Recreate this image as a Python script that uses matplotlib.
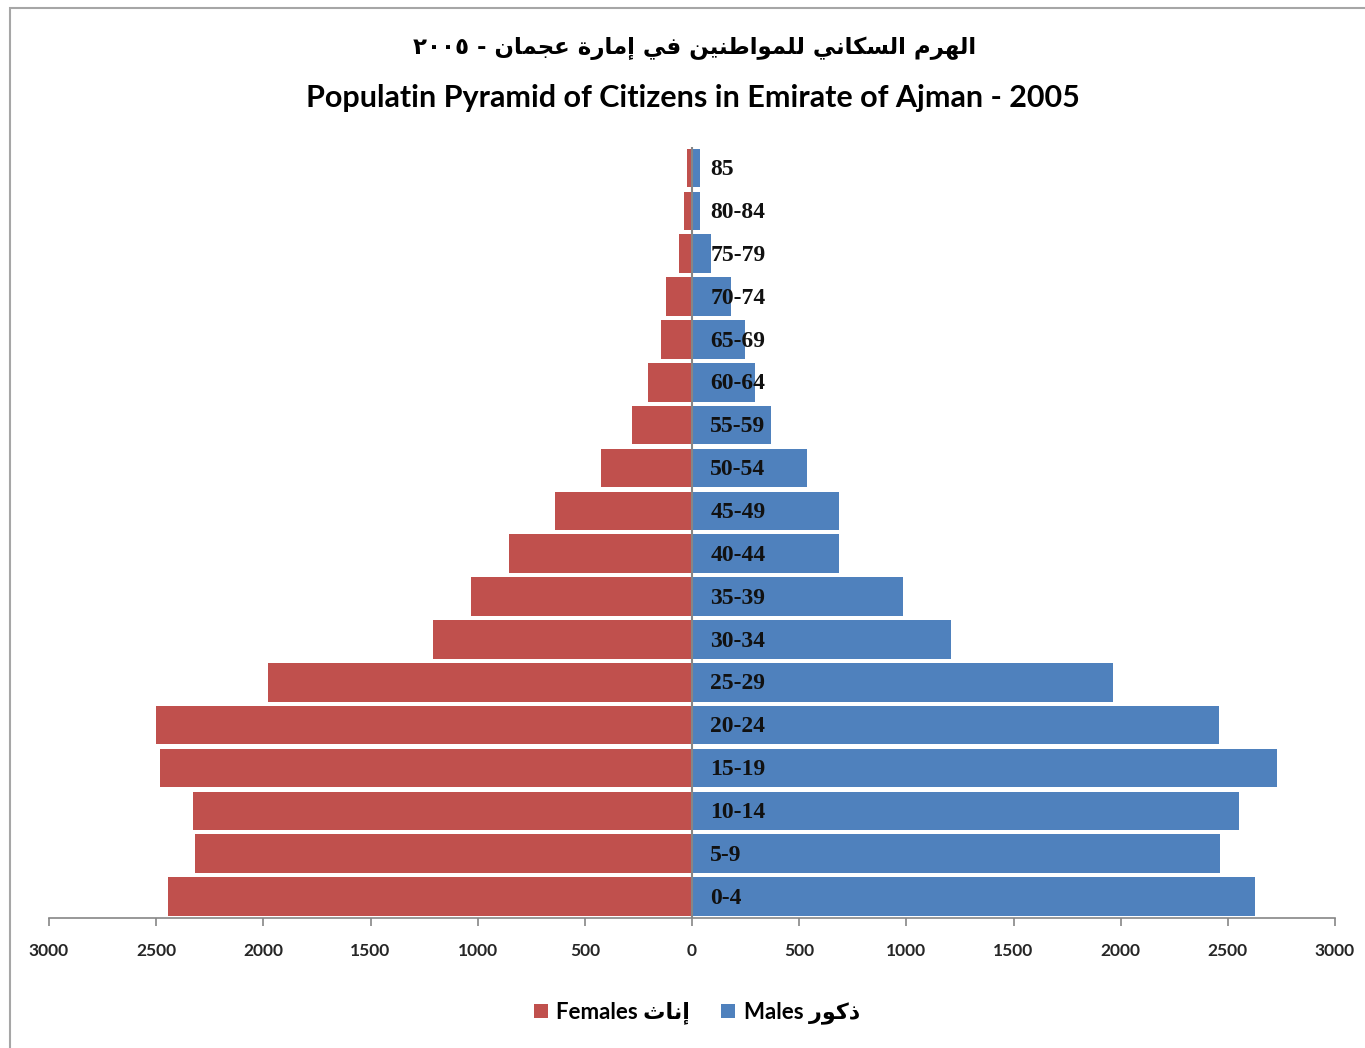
import matplotlib
matplotlib.use("Agg")
import matplotlib.pyplot as plt
from matplotlib.patches import Rectangle, Patch
import numpy as np

# ---------------- data ----------------
age_groups = ["0-4", "5-9", "10-14", "15-19", "20-24", "25-29", "30-34", "35-39",
              "40-44", "45-49", "50-54", "55-59", "60-64", "65-69", "70-74",
              "75-79", "80-84", "85"]
females = [2444, 2318, 2328, 2482, 2500, 1978, 1208, 1031, 854, 639, 425, 280,
           205, 145, 121, 61, 37, 23]
males = [2626, 2463, 2552, 2729, 2458, 1964, 1208, 984, 686, 686, 536, 368,
         294, 247, 182, 89, 37, 37]
tick_values = [-3000, -2500, -2000, -1500, -1000, -500, 0, 500, 1000, 1500, 2000, 2500, 3000]

title_ar = "الهرم السكاني للمواطنين في إمارة عجمان"
title_year = "٢٠٠٥"
title_en = "Populatin Pyramid of Citizens in Emirate of Ajman - 2005"
fem_ar = "إناث"
male_ar = "ذكور"

# ---------------- simple Arabic shaping (presentation forms) ----------------
FORMS = {
    'ا': ('\uFE8D', '\uFE8E', None, None),
    'أ': ('\uFE83', '\uFE84', None, None),
    'إ': ('\uFE87', '\uFE88', None, None),
    'آ': ('\uFE81', '\uFE82', None, None),
    'ب': ('\uFE8F', '\uFE90', '\uFE91', '\uFE92'),
    'ة': ('\uFE93', '\uFE94', None, None),
    'ت': ('\uFE95', '\uFE96', '\uFE97', '\uFE98'),
    'ث': ('\uFE99', '\uFE9A', '\uFE9B', '\uFE9C'),
    'ج': ('\uFE9D', '\uFE9E', '\uFE9F', '\uFEA0'),
    'ح': ('\uFEA1', '\uFEA2', '\uFEA3', '\uFEA4'),
    'خ': ('\uFEA5', '\uFEA6', '\uFEA7', '\uFEA8'),
    'د': ('\uFEA9', '\uFEAA', None, None),
    'ذ': ('\uFEAB', '\uFEAC', None, None),
    'ر': ('\uFEAD', '\uFEAE', None, None),
    'ز': ('\uFEAF', '\uFEB0', None, None),
    'س': ('\uFEB1', '\uFEB2', '\uFEB3', '\uFEB4'),
    'ش': ('\uFEB5', '\uFEB6', '\uFEB7', '\uFEB8'),
    'ط': ('\uFEC1', '\uFEC2', '\uFEC3', '\uFEC4'),
    'ع': ('\uFEC9', '\uFECA', '\uFECB', '\uFECC'),
    'ف': ('\uFED1', '\uFED2', '\uFED3', '\uFED4'),
    'ك': ('\uFED9', '\uFEDA', '\uFEDB', '\uFEDC'),
    'ل': ('\uFEDD', '\uFEDE', '\uFEDF', '\uFEE0'),
    'م': ('\uFEE1', '\uFEE2', '\uFEE3', '\uFEE4'),
    'ن': ('\uFEE5', '\uFEE6', '\uFEE7', '\uFEE8'),
    'ه': ('\uFEE9', '\uFEEA', '\uFEEB', '\uFEEC'),
    'و': ('\uFEED', '\uFEEE', None, None),
    'ي': ('\uFEF1', '\uFEF2', '\uFEF3', '\uFEF4'),
}
LAM_ALEF = {'ا': ('\uFEFB', '\uFEFC'), 'إ': ('\uFEF9', '\uFEFA'),
            'أ': ('\uFEF7', '\uFEF8'), 'آ': ('\uFEF5', '\uFEF6')}


def joins_forward(c):
    return c in FORMS and FORMS[c][2] is not None


def shape_visual(text):
    out = []
    i = 0
    n = len(text)
    while i < n:
        c = text[i]
        if c not in FORMS:
            out.append(c)
            i += 1
            continue
        prev = text[i - 1] if i > 0 else ''
        jp = joins_forward(prev)
        if c == 'ل' and i + 1 < n and text[i + 1] in LAM_ALEF:
            out.append(LAM_ALEF[text[i + 1]][1 if jp else 0])
            i += 2
            continue
        nxt = text[i + 1] if i + 1 < n else ''
        jn = joins_forward(c) and nxt in FORMS
        iso, fin, ini, med = FORMS[c]
        if jp and jn:
            out.append(med)
        elif jp:
            out.append(fin)
        elif jn:
            out.append(ini)
        else:
            out.append(iso)
        i += 1
    return ''.join(reversed(out))


# ---------------- figure ----------------
RED = "#C0504D"
BLUE = "#4F81BD"
AXC = "#868686"

fig = plt.figure(figsize=(13.65, 10.48), dpi=100)
W, H = 1365, 1048

# outer chart border
fig.patches.append(Rectangle((10 / W, -0.05), 1.2, 1 - 8 / H + 0.05, transform=fig.transFigure,
                             fill=False, edgecolor="#A6A6A6", linewidth=1.5))

ax = fig.add_axes([49 / W, 1 - 918 / H, (1335 - 49) / W, (918 - 146.5) / H])
y = np.arange(len(age_groups))
ax.barh(y, [-v for v in females], height=0.9, color=RED, edgecolor="none", zorder=2)
ax.barh(y, males, height=0.9, color=BLUE, edgecolor="none", zorder=2)
ax.set_xlim(-3000, 3000)
ax.set_ylim(-0.5, len(age_groups) - 0.5)

for s in ["top", "right", "left"]:
    ax.spines[s].set_visible(False)
ax.spines["bottom"].set_color(AXC)
ax.spines["bottom"].set_linewidth(1.2)
ax.axvline(0, color=AXC, linewidth=1.5, zorder=3)

ax.set_yticks([])
ax.set_xticks(tick_values)
ax.set_xticklabels([str(abs(v)) for v in tick_values], fontfamily="Lato", fontweight="bold",
                   fontsize=12.5, color="#262626")
ax.tick_params(axis="x", direction="out", length=6, width=1.2, color=AXC, pad=12)

for yi, lab in zip(y, age_groups):
    ax.text(85, yi - 0.04, lab, ha="left", va="center", fontfamily="Liberation Serif",
            fontweight="bold", fontsize=17, color="#111111", zorder=4)

# titles
fig.text(695 / W, 1 - 48 / H, title_year + " - " + shape_visual(title_ar),
         ha="center", va="center", fontsize=16.5, fontweight="bold",
         family=["DejaVu Sans"], color="black")
fig.text(693 / W, 1 - 98 / H, title_en, ha="center", va="center", fontsize=22,
         fontweight="bold", family=["Lato", "DejaVu Sans"], color="black")

# legend
handles = [Patch(facecolor=RED, edgecolor="none"), Patch(facecolor=BLUE, edgecolor="none")]
labels = ["Females " + shape_visual(fem_ar), "Males " + shape_visual(male_ar)]
leg = fig.legend(handles, labels, loc="center", bbox_to_anchor=(697 / W, 1 - 1013 / H),
                 ncol=2, frameon=False, handlelength=0.6, handleheight=0.6,
                 handletextpad=0.4, columnspacing=1.4,
                 prop={"family": ["Lato", "DejaVu Sans"], "weight": "bold", "size": 16})

fig.savefig("out.png", dpi=100, facecolor="white")
